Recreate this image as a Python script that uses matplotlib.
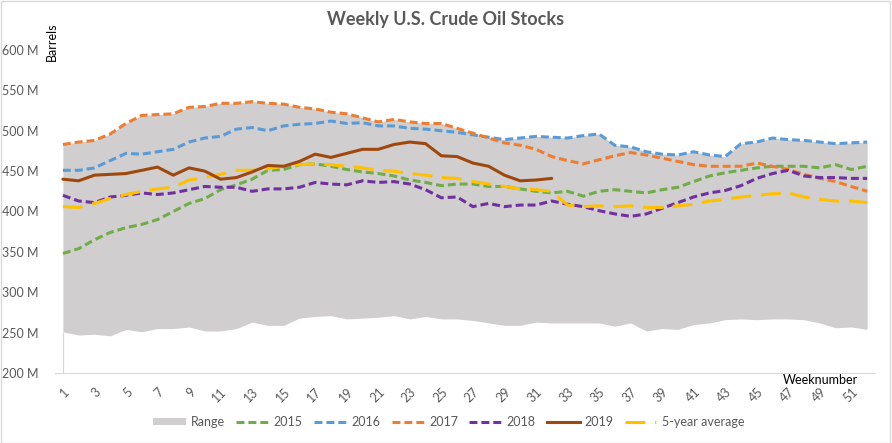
import numpy as np
import matplotlib
matplotlib.use("Agg")
from matplotlib import pyplot as plt
from matplotlib.patches import Patch, Rectangle
from matplotlib.lines import Line2D
from matplotlib.ticker import FuncFormatter

plt.rcParams['font.family'] = ['Lato', 'DejaVu Sans']

weeks = np.arange(1, 53)

# million barrels
y2015 = [348, 354, 365, 374, 380, 384, 390, 400, 410, 416, 427, 433, 440, 451, 452, 458,
         459, 456, 452, 449, 447, 444, 439, 436, 432, 434, 434, 431, 431, 428, 425, 423,
         425, 419, 425, 427, 425, 423, 427, 430, 437, 444, 448, 451, 454, 456, 456, 456,
         454, 458, 452, 456]
y2016 = [451, 451, 454, 463, 472, 471, 474, 477, 486, 491, 493, 502, 504, 500, 506, 508,
         509, 512, 509, 510, 506, 506, 503, 502, 500, 498, 495, 492, 489, 491, 493, 492,
         491, 494, 496, 482, 480, 474, 471, 470, 474, 470, 468, 484, 486, 491, 489, 488,
         486, 484, 485, 486]
y2017 = [483, 486, 488, 496, 509, 519, 520, 521, 529, 530, 534, 534, 536, 534, 533, 529,
         527, 523, 521, 516, 511, 514, 511, 509, 509, 503, 497, 491, 485, 482, 477, 468,
         463, 459, 464, 469, 473, 470, 466, 462, 458, 456, 456, 456, 460, 456, 452, 446,
         441, 437, 431, 425]
y2018 = [420, 413, 411, 418, 420, 423, 421, 423, 427, 431, 430, 430, 425, 428, 428, 430,
         436, 434, 433, 438, 436, 437, 434, 427, 417, 418, 406, 410, 406, 408, 408, 413,
         409, 406, 401, 397, 394, 397, 404, 411, 418, 423, 426, 432, 441, 447, 451, 444,
         442, 442, 441, 441]
y2019 = [440, 438, 445, 446, 447, 451, 455, 445, 454, 450, 440, 442, 449, 457, 456, 462,
         471, 467, 472, 477, 477, 483, 486, 484, 469, 468, 460, 456, 445, 438, 439, 441]
avg5 = [406, 405, 410, 416, 421, 425, 428, 430, 439, 442, 446, 451, 451, 453, 456, 458,
        459, 458, 456, 454, 451, 450, 447, 445, 442, 441, 437, 434, 431, 428, 427, 425,
        408, 406, 407, 406, 407, 405, 405, 407, 409, 413, 415, 418, 420, 422, 423, 418,
        415, 413, 413, 411]
range_low = [251, 247, 248, 246, 254, 251, 255, 255, 257, 252, 252, 255, 263, 259, 259, 268,
             270, 271, 267, 268, 269, 271, 267, 270, 267, 267, 265, 262, 259, 259, 263, 262,
             262, 262, 262, 258, 262, 252, 255, 254, 260, 262, 266, 267, 266, 267, 267, 266,
             262, 256, 257, 254]

years = {
    "2015": (y2015, "#70AD47"),
    "2016": (y2016, "#5B9BD5"),
    "2017": (y2017, "#ED7D31"),
    "2018": (y2018, "#7030A0"),
}
range_high = np.max([y2015, y2016, y2017, y2018], axis=0)

grey_txt = "#595959"
fig = plt.figure(figsize=(8.92, 4.43), dpi=100)
fig.patches.append(Rectangle((0.001, 0.001), 0.997, 0.996, transform=fig.transFigure,
                             fill=False, edgecolor="#D9D9D9", linewidth=1))
ax = fig.add_axes([55 / 892, 1 - 373 / 443, 820 / 892, 323 / 443])

ax.fill_between(weeks, range_low, range_high, color="#D0CECE", linewidth=0, zorder=1)
ax.vlines(weeks[0], 200, range_low[0], color="#D9D9D9", linewidth=0.8, zorder=1)

dash = (2.6, 1.3)
for name, (vals, col) in years.items():
    ax.plot(weeks, vals, color=col, lw=2.2, dashes=dash, dash_capstyle="butt", zorder=3)
ax.plot(weeks[:len(y2019)], y2019, color="#9E480E", lw=2.2, solid_capstyle="round", zorder=4)
ax.plot(weeks, avg5, color="#FFC000", lw=2.2, dashes=(6.5, 3.2), dash_capstyle="butt", zorder=3)

ax.set_xlim(0.5, 52.5)
ax.set_ylim(200, 600)
ax.set_yticks(range(200, 601, 50))
ax.yaxis.set_major_formatter(FuncFormatter(lambda v, p: "%d M" % v))
ax.set_xticks(weeks[::2])
ax.set_xticklabels([str(w) for w in weeks[::2]], rotation=45, ha="right",
                   rotation_mode="anchor")
ax.tick_params(axis="both", length=0, colors=grey_txt, labelsize=9)
ax.tick_params(axis="y", pad=12)
ax.tick_params(axis="x", pad=9)
for s in ["top", "right", "left"]:
    ax.spines[s].set_visible(False)
ax.spines["bottom"].set_color("#D9D9D9")
ax.spines["bottom"].set_linewidth(0.8)
ax.patch.set_visible(False)

fig.text(0.5, 1 - 20 / 443, "Weekly U.S. Crude Oil Stocks", ha="center", va="center",
         fontsize=13, fontweight="bold", color=grey_txt)
fig.text(52 / 892, 1 - 42 / 443, "Barrels", rotation=90, ha="center", va="center",
         fontsize=9, color="black")
fig.text(858 / 892, 1 - 380 / 443, "Weeknumber", ha="right", va="center",
         fontsize=9, color="black")

handles = [Patch(facecolor="#D0CECE", edgecolor="none", label="Range")]
for name, (vals, col) in years.items():
    handles.append(Line2D([], [], color=col, lw=2.2, dashes=dash, label=name))
handles.append(Line2D([], [], color="#9E480E", lw=2.2, label="2019"))
handles.append(Line2D([], [], color="#FFC000", lw=2.2, dashes=(6.5, 3.2, 0.4, 1.2),
                      label="5-year average"))
fig.legend(handles=handles, loc="center", bbox_to_anchor=(449 / 892, 1 - 422 / 443),
           ncol=7, frameon=False, fontsize=9, handlelength=2.6, handleheight=0.5,
           handletextpad=0.4, columnspacing=0.9, labelcolor=grey_txt)

fig.savefig("out.png", dpi=100)
